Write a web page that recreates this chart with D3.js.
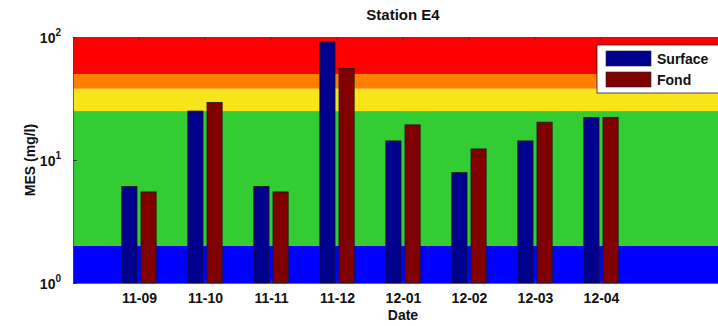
<!DOCTYPE html>
<html>
<head>
<meta charset="utf-8">
<script src="https://cdn.jsdelivr.net/npm/d3@7"></script>
<style>
  html, body { margin: 0; padding: 0; background: #fff; }
  svg { display: block; font-family: "Liberation Sans", Arial, Helvetica, sans-serif; }
</style>
</head>
<body>
<svg id="chart" width="718" height="326"></svg>
<script>
// Monthly samples at station E4
const dates = ["11-09", "11-10", "11-11", "11-12", "12-01", "12-02", "12-03", "12-04"];
const surface = [6.1, 25, 6.1, 91, 14.3, 7.9, 14.3, 22.2];
const fond = [5.5, 29.4, 5.5, 55.6, 19.3, 12.3, 20.3, 22.2];
const seriesNames = ["Surface", "Fond"];
const seriesColors = ["#00008f", "#800000"];

// Quality classes for suspended matter (MES), mg/l
const bandLimits = [1, 2, 25, 38, 50, 100];
const bandColors = ["#0000ff", "#33cc33", "#f7e51a", "#ff8000", "#ff0000"];

const yTicks = [1, 10, 100];

const svg = d3.select("#chart");
const margin = { left: 73, top: 37, right: 733, bottom: 283 };

// x runs over category index 0..10, matching the bar positions 1..8
const x = d3.scaleLinear().domain([0, 10]).range([margin.left, margin.right]);
const y = d3.scaleLog().domain([1, 100]).range([margin.bottom, margin.top]);

const plot = svg.append("g");

// Background quality bands
plot.selectAll("rect.band")
  .data(bandColors.map((c, i) => ({ lo: bandLimits[i], hi: bandLimits[i + 1], c })))
  .join("rect")
  .attr("class", "band")
  .attr("x", x(0))
  .attr("width", x(10) - x(0))
  .attr("y", d => y(d.hi))
  .attr("height", d => y(d.lo) - y(d.hi))
  .attr("fill", d => d.c);

// Grouped bars
const barW = 0.23, offset = 0.145;
const series = [surface, fond];
series.forEach((vals, s) => {
  plot.selectAll("rect.bar" + s)
    .data(vals)
    .join("rect")
    .attr("class", "bar" + s)
    .attr("x", (d, i) => x(i + 1 + (s === 0 ? -offset : offset) - barW / 2))
    .attr("width", x(barW) - x(0))
    .attr("y", d => y(d))
    .attr("height", d => y(1) - y(d))
    .attr("fill", seriesColors[s])
    .attr("stroke", "#1a1a1a")
    .attr("stroke-width", 0.8);
});

// Axes
const xAxis = d3.axisBottom(x)
  .tickValues(d3.range(1, dates.length + 1))
  .tickFormat(i => dates[i - 1])
  .tickSizeInner(-4)
  .tickSizeOuter(0)
  .tickPadding(10);

const gx = svg.append("g")
  .attr("transform", `translate(0,${margin.bottom})`)
  .call(xAxis);
gx.select(".domain").attr("stroke", "#444").attr("stroke-width", 0.8);
gx.selectAll(".tick line").attr("stroke", "#333");
gx.selectAll("text")
  .attr("font-size", 14)
  .attr("font-weight", "bold")
  .attr("fill", "#111");

// Top tick marks mirrored on the upper border
svg.append("g")
  .selectAll("line")
  .data(d3.range(1, dates.length + 1))
  .join("line")
  .attr("x1", d => x(d)).attr("x2", d => x(d))
  .attr("y1", margin.top).attr("y2", margin.top + 4)
  .attr("stroke", "#333").attr("stroke-width", 0.8);

const gy = svg.append("g")
  .attr("transform", `translate(${margin.left},0)`)
  .call(d3.axisLeft(y).tickValues(yTicks).tickFormat(() => "").tickSizeInner(-4).tickSizeOuter(0));
gy.select(".domain").attr("stroke", "#444").attr("stroke-width", 0.8);
gy.selectAll(".tick line").attr("stroke", "#333");

// Power-of-ten labels
const yLab = svg.append("g").selectAll("text")
  .data(yTicks)
  .join("text")
  .attr("x", margin.left - 12)
  .attr("y", d => y(d) + 6)
  .attr("text-anchor", "end")
  .attr("font-size", 14)
  .attr("font-weight", "bold")
  .attr("fill", "#111");
yLab.append("tspan").text("10");
yLab.append("tspan")
  .attr("dy", -7)
  .attr("font-size", 10)
  .text(d => Math.round(Math.log10(d)));

// Title and axis labels
svg.append("text")
  .attr("x", (margin.left + margin.right) / 2)
  .attr("y", 20)
  .attr("text-anchor", "middle")
  .attr("font-size", 15)
  .attr("font-weight", "bold")
  .attr("fill", "#111")
  .text("Station E4");

svg.append("text")
  .attr("x", (margin.left + margin.right) / 2)
  .attr("y", 320)
  .attr("text-anchor", "middle")
  .attr("font-size", 14)
  .attr("font-weight", "bold")
  .attr("fill", "#111")
  .text("Date");

svg.append("text")
  .attr("transform", `translate(35,${(margin.top + margin.bottom) / 2}) rotate(-90)`)
  .attr("text-anchor", "middle")
  .attr("font-size", 14)
  .attr("font-weight", "bold")
  .attr("fill", "#111")
  .text("MES (mg/l)");

// Legend
const legend = svg.append("g").attr("transform", "translate(597,45)");
legend.append("rect")
  .attr("width", 140).attr("height", 48)
  .attr("fill", "#fff").attr("stroke", "#222").attr("stroke-width", 0.8);
seriesNames.forEach((name, i) => {
  legend.append("rect")
    .attr("x", 9).attr("y", 6 + i * 21)
    .attr("width", 45).attr("height", 15)
    .attr("fill", seriesColors[i]).attr("stroke", "#222").attr("stroke-width", 0.6);
  legend.append("text")
    .attr("x", 60).attr("y", 19 + i * 21)
    .attr("font-size", 14).attr("font-weight", "bold").attr("fill", "#111")
    .text(name);
});
</script>
</body>
</html>
